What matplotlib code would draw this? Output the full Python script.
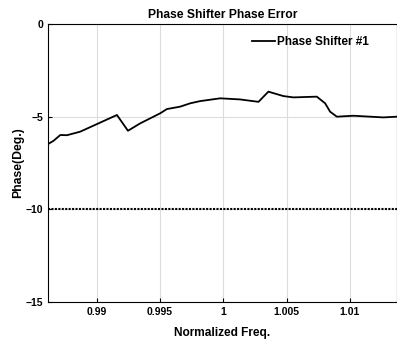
#import libraries
import matplotlib
matplotlib.use('Agg')
import matplotlib.pyplot as plt

plt.rcParams['font.family'] = ['Liberation Sans', 'DejaVu Sans']
plt.rcParams['font.weight'] = 'bold'

#Data Definition
freq = [0.98617, 0.98661, 0.98714, 0.98767, 0.98871, 0.99003, 0.99161,
        0.99248, 0.99345, 0.99502, 0.99555, 0.9966, 0.99739, 0.99818,
        0.99976, 1.00133, 1.00278, 1.00356, 1.00475, 1.00554, 1.00738,
        1.00804, 1.00843, 1.00896, 1.01027, 1.01263, 1.01371]
phase = [-6.48, -6.3, -5.99, -6.0, -5.81, -5.4, -4.91,
         -5.76, -5.36, -4.82, -4.59, -4.46, -4.28, -4.16,
         -4.01, -4.07, -4.2, -3.65, -3.89, -3.96, -3.92,
         -4.28, -4.73, -5.0, -4.95, -5.04, -5.0]
limit = -10
xticks = [0.99, 0.995, 1, 1.005, 1.01]
xticklabels = ['0.99', '0.995', '1', '1.005', '1.01']
yticks = [0, -5, -10, -15]

#Create Figure
fig = plt.figure(figsize=(3.97, 3.40), dpi=100)
ax = fig.add_axes([48/397, 1 - 302/340, 349/397, 278/340])

#Create Plot
ax.plot(freq, phase, color='black', linewidth=1.3, label='Phase Shifter #1')
ax.axhline(limit, color='black', linestyle=(0, (1, 0.65)), linewidth=1.5)

#Modify figure's appearance
ax.set_xlim(0.98617, 1.01371)
ax.set_ylim(-15, 0)
ax.set_xticks(xticks)
ax.set_xticklabels(xticklabels)
ax.set_yticks(yticks)
ax.tick_params(direction='in', labelsize=7.5, length=3, width=0.8)
ax.grid(True, color='#dcdcdc', linewidth=0.8)
ax.set_axisbelow(True)
for s in ax.spines.values():
    s.set_linewidth(0.8)
ax.set_title('Phase Shifter Phase Error', fontsize=8.7, fontweight='bold', pad=4)
ax.set_xlabel('Normalized Freq.', fontsize=8.6, fontweight='bold', labelpad=7)
ax.set_ylabel('Phase(Deg.)', fontsize=8.8, fontweight='bold', labelpad=1)
ax.legend(loc='upper right', bbox_to_anchor=(0.953, 1.0), frameon=False,
          fontsize=8.5, handlelength=2.0, handletextpad=0.15, borderaxespad=0.6)

#Save Plot
plt.savefig('out.png', dpi=100)
